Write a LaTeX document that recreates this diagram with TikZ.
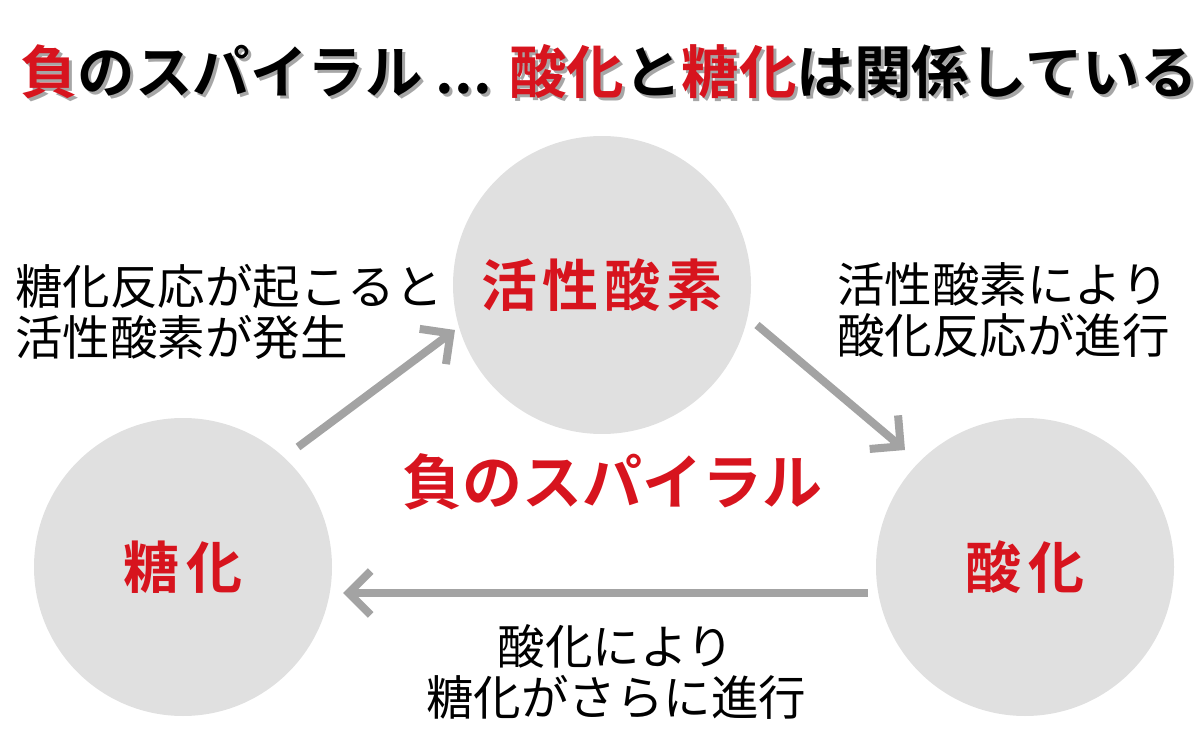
\documentclass[tikz,border=0pt]{standalone}
\usepackage{fontspec}
\setmainfont{Noto Sans CJK JP}
\newfontfamily\cjkb{Noto Sans CJK JP Bold}
\usetikzlibrary{arrows.meta}
\definecolor{myred}{HTML}{D7141E}
\definecolor{circ}{HTML}{E0E0E0}
\definecolor{arr}{HTML}{A3A3A3}
\tikzset{
  x=1pt,y=-1pt,
  bub/.style={circle,fill=circ,inner sep=0pt,minimum size=298pt},
  redlab/.style={text=myred,font=\cjkb\fontsize{56}{60}\selectfont},
  side/.style={align=left,font=\fontsize{47.5}{51}\selectfont,inner sep=0pt},
  conn/.style={draw=arr,line width=8pt,-{Straight Barb[length=22pt,width=44pt,line width=8pt]}}
}
\begin{document}
\begin{tikzpicture}
\useasboundingbox (0,0) rectangle (1200,735);
\node[bub] (top) at (602,285) {};
\node[bub] (left) at (183,567) {};
\node[bub] (right) at (1025,567) {};
\node[redlab] at (top) {活\hspace{6pt}性\hspace{6pt}酸\hspace{6pt}素};
\node[redlab] at (left) {糖\hspace{8pt}化};
\node[redlab] at (right) {酸\hspace{8pt}化};
\node[redlab,font=\cjkb\fontsize{60}{64}\selectfont] (spiral) at (612,482) {負のスパイラル};
\coordinate (a1) at (298,447); \coordinate (a2) at (455,330);
\coordinate (b1) at (757,325); \coordinate (b2) at (905,450);
\coordinate (c1) at (868,593); \coordinate (c2) at (343,593);
\draw[conn] (a1) -- (a2);
\draw[conn] (b1) -- (b2);
\draw[conn] (c1) -- (c2);
\node[side,anchor=west] (t1) at (15,312) {糖化反応が起こると\\活性酸素が発生};
\node[side,anchor=east] (t2) at (1170,310) {活性酸素により\\酸化反応が進行};
\node[side,align=center] (t3) at (616,672) {酸化により\\糖化がさらに進行};
\node[anchor=west,inner sep=0pt,font=\cjkb\fontsize{57.5}{60}\selectfont,text=black!35] at (23,75)
 {負のスパイラル ... 酸化と糖化は関係している};
\node[anchor=west,inner sep=0pt,font=\cjkb\fontsize{57.5}{60}\selectfont] (title) at (20,72)
 {\textcolor{myred}{負}のスパイラル ... \textcolor{myred}{酸化}と\textcolor{myred}{糖化}は関係している};
\end{tikzpicture}
\end{document}
